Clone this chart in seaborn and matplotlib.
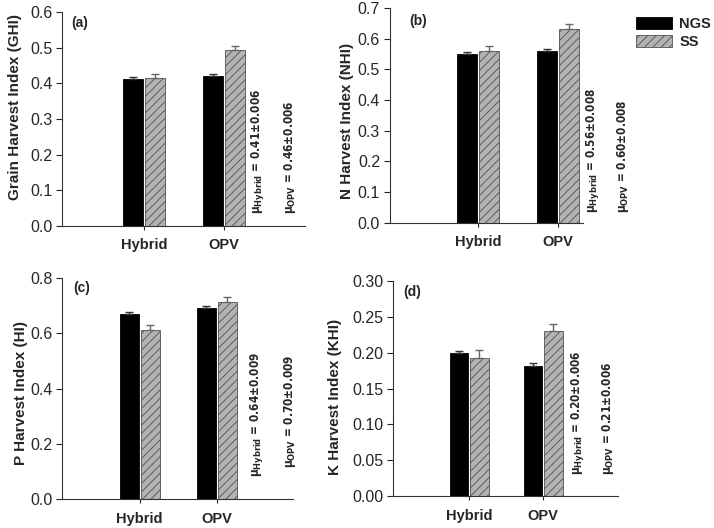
import numpy as np
import pandas as pd
import matplotlib
matplotlib.use("Agg")
import matplotlib.pyplot as plt
import matplotlib.patches as mpatches
from matplotlib import font_manager as fm
import seaborn as sns

# ---------------- data ----------------
categories = ["Hybrid", "OPV"]
treatments = ["NGS", "SS"]

ghi_ngs = [0.412, 0.420]
ghi_ngs_err = [0.005, 0.006]
ghi_ss = [0.414, 0.493]
ghi_ss_err = [0.013, 0.011]

nhi_ngs = [0.551, 0.559]
nhi_ngs_err = [0.005, 0.006]
nhi_ss = [0.559, 0.632]
nhi_ss_err = [0.016, 0.016]

phi_ngs = [0.670, 0.691]
phi_ngs_err = [0.007, 0.008]
phi_ss = [0.612, 0.713]
phi_ss_err = [0.018, 0.018]

khi_ngs = [0.1995, 0.181]
khi_ngs_err = [0.003, 0.005]
khi_ss = [0.1925, 0.230]
khi_ss_err = [0.011, 0.010]

ylabels = ["Grain Harvest Index (GHI)", "N Harvest Index (NHI)",
           "P Harvest Index (HI)", "K Harvest Index (KHI)"]
panel_tags = ["(a)", "(b)", "(c)", "(d)"]
mu_hybrid = ["0.41±0.006", "0.56±0.008", "0.64±0.009", "0.20±0.006"]
mu_opv = ["0.46±0.006", "0.60±0.008", "0.70±0.009", "0.21±0.006"]
yticks_list = [
    [0.0, 0.1, 0.2, 0.3, 0.4, 0.5, 0.6],
    [0.0, 0.1, 0.2, 0.3, 0.4, 0.5, 0.6, 0.7],
    [0.0, 0.2, 0.4, 0.6, 0.8],
    [0.00, 0.05, 0.10, 0.15, 0.20, 0.25, 0.30],
]
ytick_fmt = ["{:.1f}", "{:.1f}", "{:.1f}", "{:.2f}"]

panels = [
    (ghi_ngs, ghi_ngs_err, ghi_ss, ghi_ss_err),
    (nhi_ngs, nhi_ngs_err, nhi_ss, nhi_ss_err),
    (phi_ngs, phi_ngs_err, phi_ss, phi_ss_err),
    (khi_ngs, khi_ngs_err, khi_ss, khi_ss_err),
]

# ---------------- style ----------------
sns.set_style("ticks")
plt.rcParams["font.family"] = ["Liberation Sans", "DejaVu Sans"]
plt.rcParams["hatch.linewidth"] = 0.6


def pick_narrow():
    try:
        p = fm.findfont(fm.FontProperties(family="Liberation Sans Narrow", weight="bold"),
                        fallback_to_default=False)
        if "Narrow" in p:
            return "Liberation Sans Narrow", "normal", 10.0
    except Exception:
        pass
    try:
        p = fm.findfont(fm.FontProperties(family="DejaVu Sans", stretch="condensed",
                                          weight="bold"))
        if "Condensed" in p:
            return "DejaVu Sans", "condensed", 8.5
    except Exception:
        pass
    return "Liberation Sans", "normal", 8.5


mu_family, mu_stretch, mu_size = pick_narrow()
plt.rcParams["mathtext.fontset"] = "custom"
plt.rcParams["mathtext.rm"] = mu_family + ":bold"
plt.rcParams["mathtext.it"] = mu_family + ":bold"
plt.rcParams["mathtext.bf"] = mu_family + ":bold"

fig = plt.figure(figsize=(7.14, 5.28), dpi=100)

axes_rects = [
    [0.0868, 0.572, 0.340, 0.405],
    [0.546, 0.578, 0.270, 0.407],
    [0.0868, 0.0549, 0.3235, 0.4186],
    [0.5504, 0.0606, 0.3151, 0.4072],
]
xlims = [(-1.025, 2.01), (-1.10, 1.31), (-1.01, 1.99), (-1.03, 2.01)]
ylabel_coords = [(-0.165, 0.556), (-0.185, 0.474), (-0.145, 0.48), (-0.228, 0.46)]
mu_pos = [  # (x1, y1, x2, y2) axes fraction, bottom anchored
    (0.807, 0.055, 0.94, 0.055),
    (1.05, 0.045, 1.21, 0.045),
    (0.844, 0.10, 0.987, 0.14),
    (0.818, 0.10, 0.956, 0.10),
]
tag_pos = [(0.04, 0.95), (0.10, 0.94), (0.05, 0.955), (0.045, 0.95)]

palette = {"NGS": "black", "SS": "#b3b3b3"}

for i, (ngs, ngs_err, ss, ss_err) in enumerate(panels):
    ax = fig.add_axes(axes_rects[i])
    df = pd.DataFrame({
        "Genotype": categories * 2,
        "Treatment": ["NGS"] * 2 + ["SS"] * 2,
        "Value": list(ngs) + list(ss),
    })
    sns.barplot(data=df, x="Genotype", y="Value", hue="Treatment",
                hue_order=treatments, order=categories, palette=palette,
                width=0.55, gap=0.1, errorbar=None, legend=False,
                saturation=1, ax=ax)
    for bar in ax.containers[0]:
        bar.set_edgecolor("black")
        bar.set_linewidth(0.6)
    for bar in ax.containers[1]:
        bar.set_hatch("////")
        bar.set_edgecolor("#505050")
        bar.set_linewidth(0.6)
    for cont, errs, col in [(ax.containers[0], ngs_err, "#333333"),
                            (ax.containers[1], ss_err, "#666666")]:
        xs = [b.get_x() + b.get_width() / 2 for b in cont]
        hs = [b.get_height() for b in cont]
        ax.errorbar(xs, hs, yerr=[[0] * len(errs), errs], fmt="none",
                    ecolor=col, elinewidth=1.0, capsize=3, capthick=1.0)

    ax.set_xlim(*xlims[i])
    yt = yticks_list[i]
    ax.set_ylim(yt[0], yt[-1])
    ax.set_yticks(yt)
    ax.set_yticklabels([ytick_fmt[i].format(v) for v in yt], fontsize=11.5)
    ax.set_xticks([0, 1])
    ax.set_xticklabels(categories, fontsize=10.5, fontweight="bold")
    ax.tick_params(axis="x", length=3, width=0.8, pad=6)
    ax.tick_params(axis="y", length=4, width=0.8, pad=3)
    ax.set_xlabel("")
    ax.set_ylabel(ylabels[i], fontsize=11, fontweight="bold")
    ax.yaxis.set_label_coords(*ylabel_coords[i])
    for sp in ["top", "right"]:
        ax.spines[sp].set_visible(False)
    for sp in ["left", "bottom"]:
        ax.spines[sp].set_linewidth(0.8)
        ax.spines[sp].set_color("#333333")

    ax.text(tag_pos[i][0], tag_pos[i][1], panel_tags[i], transform=ax.transAxes,
            fontsize=10, fontweight="bold", ha="left", va="center")

    x1, y1, x2, y2 = mu_pos[i]
    ax.text(x1, y1, r"μ$_{\mathrm{Hybrid}}$ = " + mu_hybrid[i],
            transform=ax.transAxes, rotation=90, ha="center", va="bottom",
            fontsize=mu_size, fontweight="bold", fontstretch=mu_stretch,
            family=mu_family, clip_on=False)
    ax.text(x2, y2, r"μ$_{\mathrm{OPV}}$ = " + mu_opv[i],
            transform=ax.transAxes, rotation=90, ha="center", va="bottom",
            fontsize=mu_size, fontweight="bold", fontstretch=mu_stretch,
            family=mu_family, clip_on=False)

handles = [
    mpatches.Patch(facecolor="black", edgecolor="black", linewidth=0.6, label="NGS"),
    mpatches.Patch(facecolor="#b3b3b3", edgecolor="#505050", hatch="////",
                   linewidth=0.6, label="SS"),
]
fig.legend(handles=handles, loc="upper left", bbox_to_anchor=(0.872, 0.993),
           frameon=False, handlelength=2.5, handleheight=0.9, labelspacing=0.25,
           handletextpad=0.5, prop={"weight": "bold", "size": 10.5})

fig.savefig("out.png", dpi=100)
